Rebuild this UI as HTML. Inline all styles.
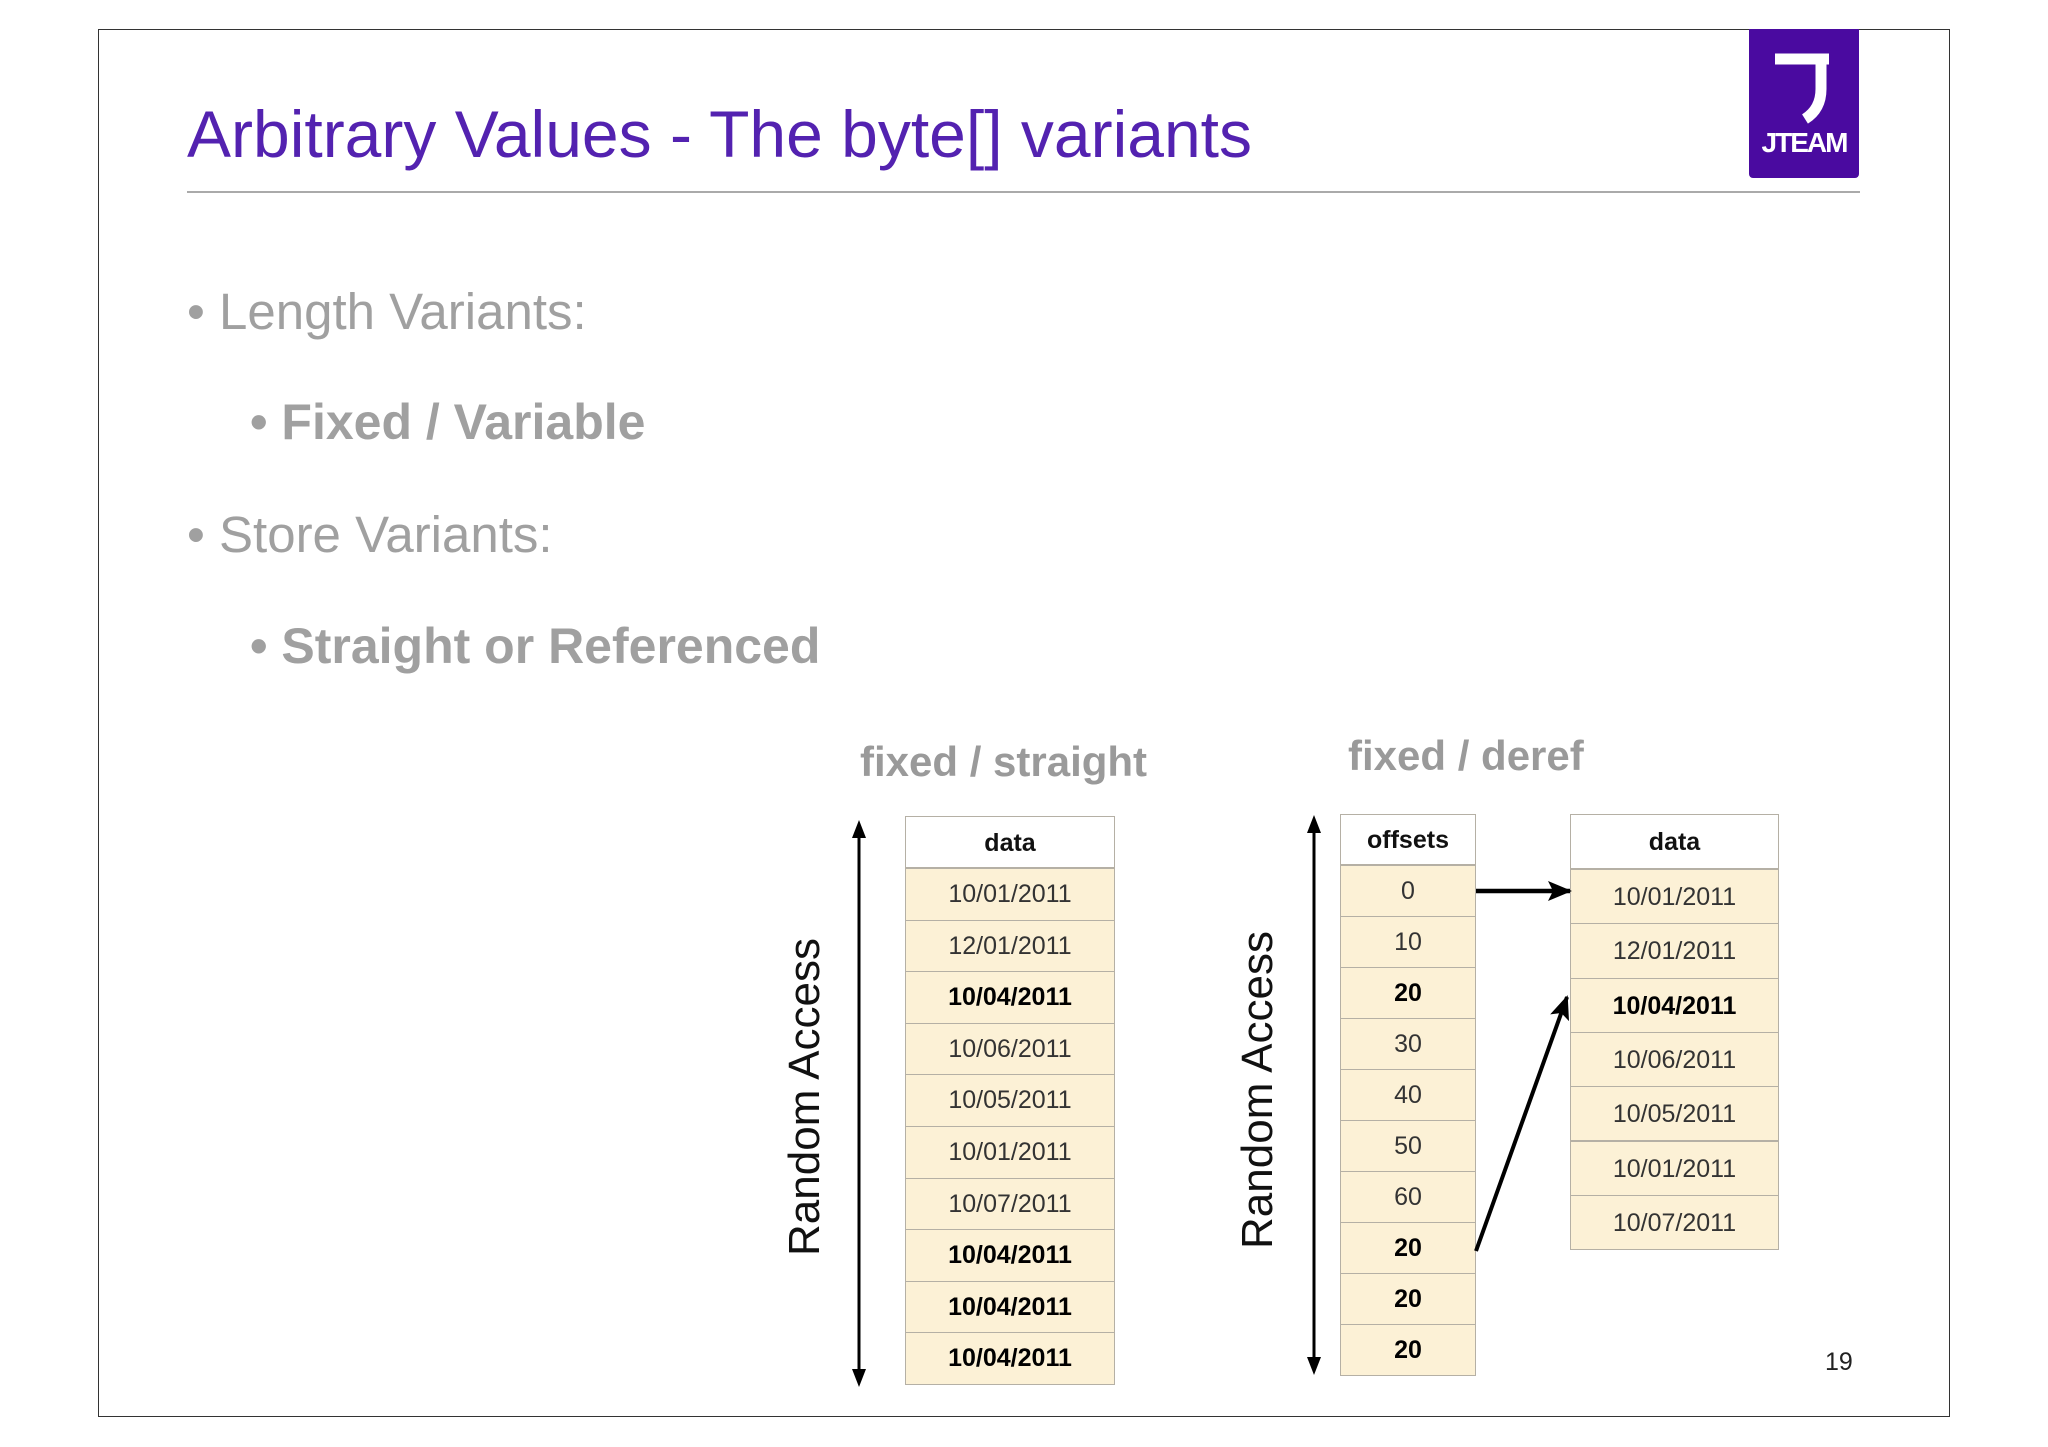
<!DOCTYPE html>
<html><head><meta charset="utf-8"><style>
body{margin:0;width:2048px;height:1447px;background:#fff;position:relative;overflow:hidden;font-family:"Liberation Sans",sans-serif}
.a{position:absolute;white-space:nowrap}
.cell{position:absolute;box-sizing:border-box;border:1px solid #b5b0a5;background:#fcf1d6;text-align:center;color:#333;font-size:25px}
.hd{background:#fff;font-weight:bold;color:#111}
.b{font-weight:bold;color:#000}
.bul{color:#a0a0a0;font-size:51px}
</style></head><body>
<div class="a" style="left:98px;top:29px;width:1852px;height:1388px;border:1.5px solid #333;box-sizing:border-box"></div>
<div class="a" style="left:1749px;top:29px;width:110px;height:149px;background:#4a0aa0;border-radius:0 0 4px 4px;color:#fff;text-align:center">
<svg width="110" height="100" style="position:absolute;left:0;top:0"><path d="M26 30 H80 M72 30 V60 Q72 80 56 90" stroke="#fff" stroke-width="11" fill="none"/></svg>
<div class="a" style="left:0;width:110px;top:98px;font-size:28px;font-weight:bold;letter-spacing:-2px">JTEAM</div></div>
<div class="a" style="left:187px;top:96px;font-size:66px;color:#5322b0">Arbitrary Values - The byte[] variants</div>
<div class="a" style="left:187px;top:191px;width:1673px;height:2px;background:#aaa"></div>
<div class="a bul" style="left:187px;top:282px">• Length Variants:</div>
<div class="a bul" style="left:250px;top:393px;font-weight:bold;font-size:50px">• Fixed / Variable</div>
<div class="a bul" style="left:187px;top:505px">• Store Variants:</div>
<div class="a bul" style="left:250px;top:617px;font-weight:bold;font-size:50px">• Straight or Referenced</div>
<div class="a" style="left:860px;top:738px;font-size:42px;font-weight:bold;color:#9a9a9a">fixed / straight</div>
<div class="a" style="left:1348px;top:732px;font-size:42px;font-weight:bold;color:#9a9a9a">fixed / deref</div>
<div class="a" style="left:805px;top:1097px;font-size:44px;color:#111;transform:translate(-50%,-50%) rotate(-90deg)">Random Access</div>
<div class="a" style="left:1258px;top:1090px;font-size:44px;color:#111;transform:translate(-50%,-50%) rotate(-90deg)">Random Access</div>
<div class="a" style="left:1825px;top:1348px;font-size:25px;color:#222">19</div>
<div id="tables"></div>
<svg class="a" style="left:0;top:0" width="2048" height="1447">
<defs>
<marker id="h" markerWidth="24" markerHeight="24" refX="22" refY="12" orient="auto" markerUnits="userSpaceOnUse"><path d="M0 2 L24 12 L0 22 L5 12z" fill="#000"/></marker></defs>
<g stroke="#000" stroke-width="3">
<line x1="859" y1="836" x2="859" y2="1372"/>
<path d="M859 820 l-7 18 h14z M859 1387 l-7 -18 h14z" fill="#000" stroke="none"/>
<line x1="1314" y1="831" x2="1314" y2="1360"/>
<path d="M1314 815 l-7 18 h14z M1314 1375 l-7 -18 h14z" fill="#000" stroke="none"/>
<line x1="1476" y1="891" x2="1570" y2="891" stroke-width="4.5" marker-end="url(#h)"/>
<line x1="1476" y1="1251" x2="1567" y2="997" stroke-width="4" marker-end="url(#h)"/>
</g></svg>
<script>
const straightData=["10/01/2011","12/01/2011","10/04/2011","10/06/2011","10/05/2011","10/01/2011","10/07/2011","10/04/2011","10/04/2011","10/04/2011"];
const straightBold=[0,0,1,0,0,0,0,1,1,1];
const offsets=["0","10","20","30","40","50","60","20","20","20"];
const offsetBold=[0,0,1,0,0,0,0,1,1,1];
const derefData=["10/01/2011","12/01/2011","10/04/2011","10/06/2011","10/05/2011","10/01/2011","10/07/2011"];
const derefBold=[0,0,1,0,0,0,0];
const root=document.getElementById('tables');
function table(name,x,w,top,hh,rh,vals,bold,head){
 const hd=document.createElement('div');hd.className='cell hd';
 
 
 hd.style.cssText=`left:${x}px;top:${top}px;width:${w}px;height:${hh}px;line-height:${hh}px`;hd.textContent=head;root.appendChild(hd);
 vals.forEach((v,i)=>{const c=document.createElement('div');c.className='cell'+(bold[i]?' b':'');
 
 
 c.style.cssText=`left:${x}px;top:${top+hh+i*rh}px;width:${w}px;height:${rh+1}px;line-height:${rh}px`;c.textContent=v;root.appendChild(c);});
}
table('straight-table',905,210,816,52,51.6,straightData,straightBold,'data');
table('offsets-table',1340,136,814,51,51,offsets,offsetBold,'offsets');
table('deref-table',1570,209,814,55,54.3,derefData,derefBold,'data');
</script>
</body></html>
